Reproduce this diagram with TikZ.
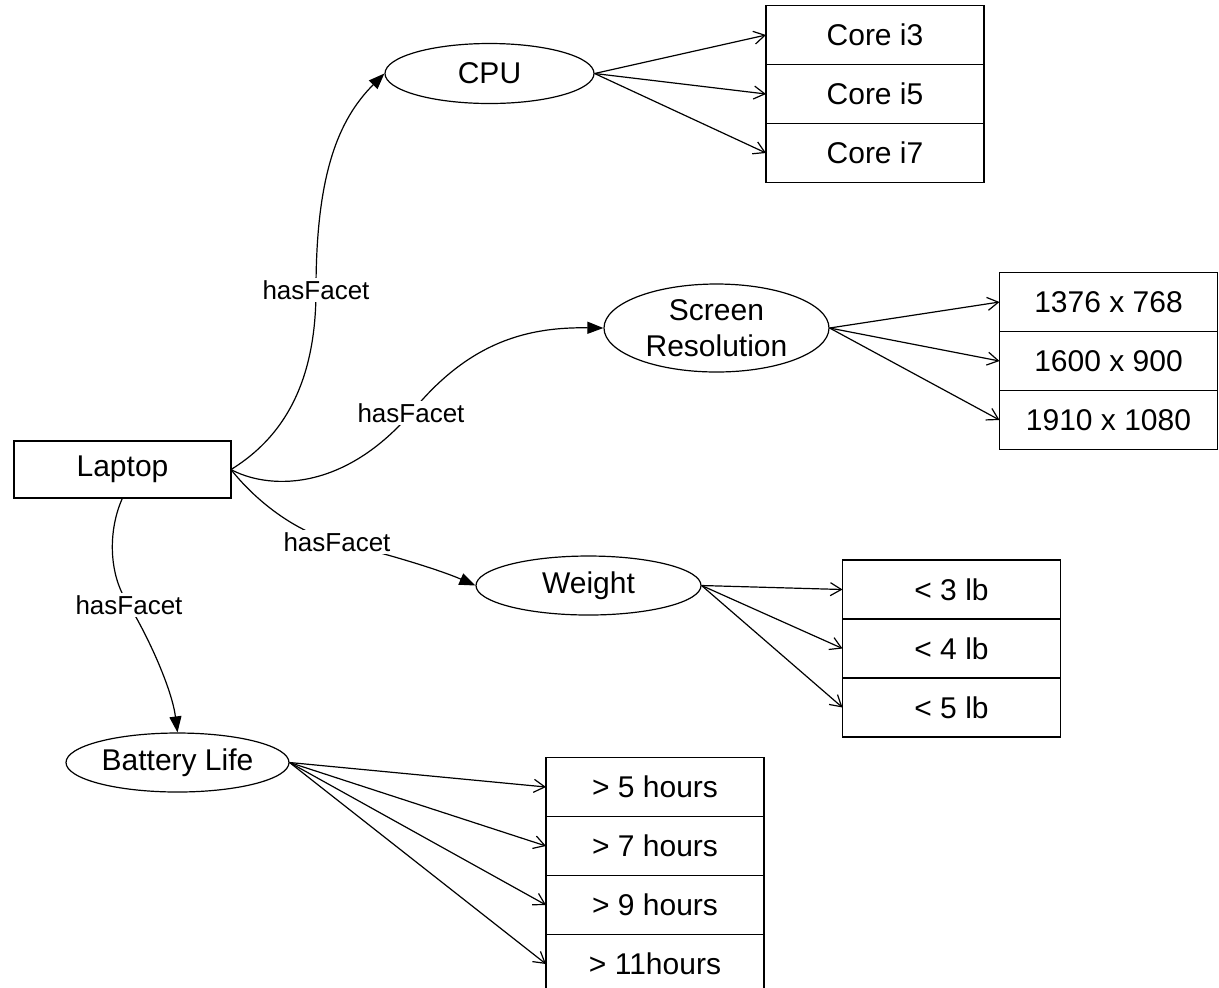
\documentclass[tikz,border=0pt]{standalone}
\usepackage{fontspec}
\setmainfont{Liberation Sans}
\usetikzlibrary{arrows.meta, positioning, shapes.geometric}
\tikzset{facet/.style = {draw, ellipse, inner sep=0pt, align=center, font=\fontsize{15}{18}\selectfont}}
\tikzset{valbox/.style = {draw, rectangle, outer sep=0pt, inner sep=0pt, minimum width=109pt, minimum height=29.5pt, font=\fontsize{15}{18}\selectfont}}
\tikzset{hasedge/.style = {-{Triangle[length=8pt, width=6pt]}}}
\tikzset{valedge/.style = {-{Straight Barb[length=5.5pt, width=6.5pt]}}}
\tikzset{lbl/.style = {fill=white, inner sep=1pt, font=\fontsize{13}{15}\selectfont}}

\begin{document}
\begin{tikzpicture}[x=0.5pt, y=-0.5pt, line width=0.6pt]
\useasboundingbox (0,0) rectangle (1219,987);
\node [draw, outer sep=0pt, minimum width=108.5pt, minimum height=28.5pt, font=\fontsize{15}{18}\selectfont] (laptop) at (122.5,469.5) {Laptop};
\node [facet, minimum width=104.5pt, minimum height=30pt] (cpu) at (489.5,73.5) {CPU};
\node [facet, minimum width=112.5pt, minimum height=44pt] (screen) at (716.5,328) {Screen\\Resolution};
\node [facet, minimum width=112.5pt, minimum height=29.5pt] (weight) at (588.5,585.5) {Weight};
\node [facet, minimum width=111.5pt, minimum height=29.5pt] (battery) at (177.5,762.5) {Battery Life};
% value boxes
\node [valbox] (i3) at (875,35) {Core i3};
\node [valbox, below=0pt of i3] (i5) {Core i5};
\node [valbox, below=0pt of i5] (i7) {Core i7};
\node [valbox] (res1) at (1108.5,302) {1376 x 768};
\node [valbox, below=0pt of res1] (res2) {1600 x 900};
\node [valbox, below=0pt of res2] (res3) {1910 x 1080};
\node [valbox] (lb3) at (951.5,589.5) {< 3 lb};
\node [valbox, below=0pt of lb3] (lb4) {< 4 lb};
\node [valbox, below=0pt of lb4] (lb5) {< 5 lb};
\node [valbox] (h5) at (655,787) {> 5 hours};
\node [valbox, below=0pt of h5] (h7) {> 7 hours};
\node [valbox, below=0pt of h7] (h9) {> 9 hours};
\node [valbox, below=0pt of h9] (h11) {> 11hours};
% facets
\draw [hasedge] (laptop.east) .. controls (292,432) and (316,370) .. (316,290) node [lbl] {hasFacet} .. controls (316,175) and (338,120) .. (cpu.west);
\draw [hasedge] (laptop.east) .. controls (265,488) and (340,495) .. (411,413) node [lbl] {hasFacet} .. controls (470,340) and (530,327) .. (screen.west);
\draw [hasedge] (laptop.east) .. controls (255,500) and (295,532) .. (337,542) node [lbl] {hasFacet} .. controls (385,553) and (440,570) .. (weight.west);
\draw [hasedge] (laptop.south) .. controls (108,530) and (108,575) .. (129,605) node [lbl] {hasFacet} .. controls (150,640) and (172,690) .. (battery.north);
% values
\draw [valedge] (cpu.east) -- (i3.west);
\draw [valedge] (cpu.east) -- (i5.west);
\draw [valedge] (cpu.east) -- (i7.west);
\draw [valedge] (screen.east) -- (res1.west);
\draw [valedge] (screen.east) -- (res2.west);
\draw [valedge] (screen.east) -- (res3.west);
\draw [valedge] (weight.east) -- (lb3.west);
\draw [valedge] (weight.east) -- (lb4.west);
\draw [valedge] (weight.east) -- (lb5.west);
\draw [valedge] (battery.east) -- (h5.west);
\draw [valedge] (battery.east) -- (h7.west);
\draw [valedge] (battery.east) -- (h9.west);
\draw [valedge] (battery.east) -- (h11.west);
\end{tikzpicture}
\end{document}
